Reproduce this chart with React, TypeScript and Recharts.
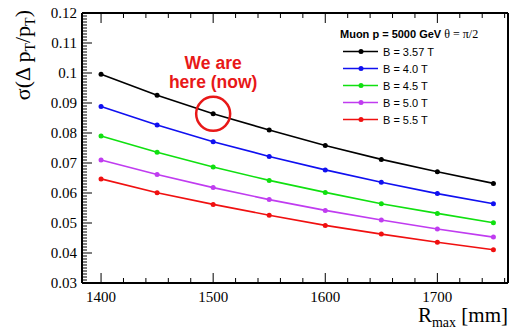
import React from 'react'
import {
  LineChart,
  Line,
  XAxis,
  YAxis,
  ReferenceDot,
} from 'recharts'

// R_max values (mm)
const rMax = [1400, 1450, 1500, 1550, 1600, 1650, 1700, 1750]

// sigma(dpT/pT) per field strength
const b357 = [0.0996, 0.0926, 0.0864, 0.081, 0.0758, 0.0712, 0.0671, 0.0632]
const b40 = [0.0888, 0.0827, 0.0771, 0.0722, 0.0677, 0.0636, 0.0598, 0.0564]
const b45 = [0.079, 0.0736, 0.0687, 0.0642, 0.0602, 0.0564, 0.0532, 0.0501]
const b50 = [0.071, 0.0662, 0.0618, 0.0578, 0.0542, 0.051, 0.048, 0.0453]
const b55 = [0.0647, 0.0601, 0.0562, 0.0526, 0.0492, 0.0463, 0.0436, 0.0411]

const seriesNames = ['B = 3.57 T', 'B = 4.0 T', 'B = 4.5 T', 'B = 5.0 T', 'B = 5.5 T']
const seriesKeys = ['b357', 'b40', 'b45', 'b50', 'b55']
const seriesColors = ['#000000', '#1010f0', '#10e010', '#c03cf0', '#f01010']

const xMajorTicks = [1400, 1500, 1600, 1700]
const yMajorTicks = [0.03, 0.04, 0.05, 0.06, 0.07, 0.08, 0.09, 0.1, 0.11, 0.12]

const xTicks: number[] = []
for (let v = 1400; v <= 1760; v += 20) xTicks.push(v)
const yTicks: number[] = []
for (let i = 30; i <= 120; i++) yTicks.push(i / 1000)

const chartData = rMax.map((r, i) => ({
  r,
  b357: b357[i],
  b40: b40[i],
  b45: b45[i],
  b50: b50[i],
  b55: b55[i],
}))

const serif = '"Liberation Serif", "Times New Roman", serif'
const sans = '"Liberation Sans", Arial, sans-serif'

const isMajorX = (v: number) => xMajorTicks.includes(v)
const isMajorY = (v: number) => yMajorTicks.some((m) => Math.abs(m - v) < 1e-7)

const fmtY = (v: number) => {
  const s = v.toFixed(2)
  return s === '0.10' ? '0.1' : s
}

function LeftTick({ x, y, payload }: any) {
  const major = isMajorY(payload.value)
  return (
    <g>
      <line x1={x} y1={y} x2={x + (major ? 10 : 5)} y2={y} stroke="#000" strokeWidth={1} />
      {major && (
        <text x={x - 5} y={y + 5} textAnchor="end" fontFamily={serif} fontSize={15} fill="#000">
          {fmtY(payload.value)}
        </text>
      )}
    </g>
  )
}

function RightTick({ x, y, payload }: any) {
  const major = isMajorY(payload.value)
  return <line x1={x} y1={y} x2={x - (major ? 10 : 5)} y2={y} stroke="#000" strokeWidth={1} />
}

function BottomTick({ x, y, payload }: any) {
  const major = isMajorX(payload.value)
  return (
    <g>
      <line x1={x} y1={y} x2={x} y2={y - (major ? 10 : 5)} stroke="#000" strokeWidth={1} />
      {major && (
        <text x={x} y={y + 19} textAnchor="middle" fontFamily={serif} fontSize={15} fill="#000">
          {payload.value}
        </text>
      )}
    </g>
  )
}

function TopTick({ x, y, payload }: any) {
  const major = isMajorX(payload.value)
  return <line x1={x} y1={y} x2={x} y2={y + (major ? 10 : 5)} stroke="#000" strokeWidth={1} />
}

function YTitle({ viewBox }: any) {
  const x = viewBox.x + 30
  const y = viewBox.y - 3
  return (
    <text
      x={x}
      y={y}
      transform={`rotate(-90 ${x} ${y})`}
      textAnchor="end"
      fontFamily={serif}
      fontSize={22}
      fill="#000"
    >
      <tspan>σ(Δ p</tspan>
      <tspan dy={5} fontSize={14}>T</tspan>
      <tspan dy={-5}>/p</tspan>
      <tspan dy={5} fontSize={14}>T</tspan>
      <tspan dy={-5}>)</tspan>
    </text>
  )
}

function XTitle({ viewBox }: any) {
  const x = viewBox.x + viewBox.width
  const y = viewBox.y + 39
  return (
    <text x={x} y={y} textAnchor="end" fontFamily={serif} fontSize={21} fill="#000">
      <tspan>R</tspan>
      <tspan dy={5} fontSize={14}>max</tspan>
      <tspan dy={-5}> [mm]</tspan>
    </text>
  )
}

function Annotation({ viewBox }: any) {
  const cx = viewBox.x + viewBox.width / 2
  const cy = viewBox.y + viewBox.height / 2
  return (
    <g fontFamily={sans} fontWeight="bold" fontSize={17.5} fill="#e81818" textAnchor="middle">
      <text x={cx} y={cy - 45}>We are</text>
      <text x={cx} y={cy - 26}>here (now)</text>
    </g>
  )
}

// legend drawn as an overlay so it does not eat into the plot area
function LegendBox() {
  return (
    <div style={{ position: 'absolute', left: 340, top: 26, fontFamily: sans, color: '#000' }}>
      <div style={{ fontSize: 11, fontWeight: 'bold', height: 17, lineHeight: '17px', whiteSpace: 'nowrap' }}>
        Muon p = 5000 GeV{' '}
        <span style={{ fontFamily: serif, fontWeight: 'normal', fontSize: 12 }}>θ = π/2</span>
      </div>
      {seriesNames.map((name, i) => (
        <div key={name} style={{ display: 'flex', alignItems: 'center', height: 17, fontSize: 11 }}>
          <svg width={43} height={17} style={{ display: 'block' }}>
            <line x1={3} y1={8.5} x2={38} y2={8.5} stroke={seriesColors[i]} strokeWidth={1.6} />
            <circle cx={21} cy={8.5} r={2.5} fill={seriesColors[i]} />
          </svg>
          <span style={{ whiteSpace: 'nowrap' }}>{name}</span>
        </div>
      ))}
    </div>
  )
}

export default function App() {
  return (
    <div style={{ position: 'absolute', left: 0, top: 0, width: 512, height: 331, background: '#fff' }}>
      <LineChart width={512} height={331} data={chartData} margin={{ top: 12, right: 0, bottom: 0, left: 0 }}>
        <XAxis
          dataKey="r"
          type="number"
          domain={[1383, 1763]}
          ticks={xTicks}
          interval={0}
          tickSize={0}
          tickMargin={0}
          tick={<BottomTick />}
          height={48}
          axisLine={{ stroke: '#000', strokeWidth: 2 }}
          tickLine={false}
          label={<XTitle />}
        />
        <XAxis
          xAxisId="top"
          orientation="top"
          dataKey="r"
          type="number"
          domain={[1383, 1763]}
          ticks={xTicks}
          interval={0}
          tickSize={0}
          tickMargin={0}
          tick={<TopTick />}
          height={1}
          axisLine={{ stroke: '#000', strokeWidth: 2 }}
          tickLine={false}
        />
        <YAxis
          type="number"
          domain={[0.03, 0.12]}
          ticks={yTicks}
          interval={0}
          tickSize={0}
          tickMargin={0}
          tick={<LeftTick />}
          width={82}
          axisLine={{ stroke: '#000', strokeWidth: 2 }}
          tickLine={false}
          label={<YTitle />}
        />
        <YAxis
          yAxisId="right"
          orientation="right"
          type="number"
          domain={[0.03, 0.12]}
          ticks={yTicks}
          interval={0}
          tickSize={0}
          tickMargin={0}
          tick={<RightTick />}
          width={4}
          axisLine={{ stroke: '#000', strokeWidth: 2 }}
          tickLine={false}
        />
        {seriesKeys.map((k, i) => (
          <Line
            key={k}
            dataKey={k}
            name={seriesNames[i]}
            stroke={seriesColors[i]}
            strokeWidth={1.6}
            dot={{ r: 2.5, fill: seriesColors[i], stroke: 'none' }}
            activeDot={false}
            isAnimationActive={false}
          />
        ))}
        <ReferenceDot
          x={1500}
          y={b357[2]}
          r={17}
          fill="none"
          stroke="#e81818"
          strokeWidth={2.5}
          label={<Annotation />}
        />
      </LineChart>
      <LegendBox />
    </div>
  )
}
